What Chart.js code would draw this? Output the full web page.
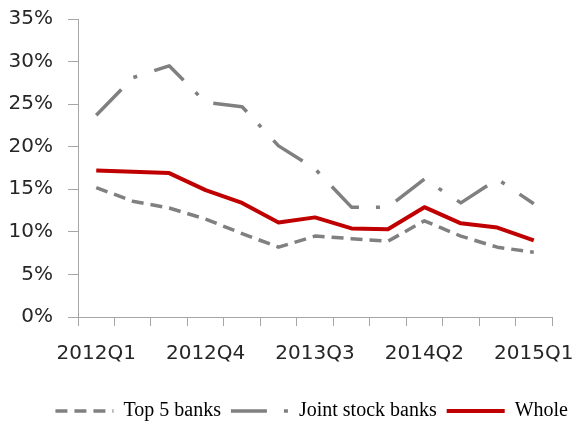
<!DOCTYPE html>
<html>
<head>
<meta charset="utf-8">
<script src="https://cdn.jsdelivr.net/npm/chart.js@4/dist/chart.umd.min.js"></script>
<style>
  html, body { margin: 0; padding: 0; background: #ffffff; }
  #wrap { width: 578px; height: 423px; position: relative; }
</style>
</head>
<body>
<div id="wrap"><canvas id="chart"></canvas></div>
<script>
// Quarterly categories along the x axis
const quarters = [
  '2012Q1', '2012Q2', '2012Q3', '2012Q4',
  '2013Q1', '2013Q2', '2013Q3', '2013Q4',
  '2014Q1', '2014Q2', '2014Q3', '2014Q4',
  '2015Q1'
];

// Series values, in percent
const top5Banks       = [15.2, 13.6, 12.8, 11.5, 9.8, 8.2, 9.5, 9.2, 8.9, 11.3, 9.5, 8.2, 7.6];
const jointStockBanks = [23.7, 28.1, 29.5, 25.2, 24.7, 20.1, 17.4, 12.9, 12.9, 16.2, 13.4, 16.2, 13.3];
const whole           = [17.2, 17.05, 16.9, 14.9, 13.4, 11.1, 11.7, 10.4, 10.3, 12.9, 11.0, 10.5, 9.0];

// Only every third quarter carries a label
const labelledQuarters = ['2012Q1', '2012Q4', '2013Q3', '2014Q2', '2015Q1'];

// Y axis range and step, in percent
const yMin = 0;
const yMax = 35;
const yStep = 5;

const axisGray = '#a6a6a6';
const tickFont = { family: 'DejaVu Sans', size: 20 };

const chart = new Chart(document.getElementById('chart'), {
  type: 'line',
  data: {
    labels: quarters,
    datasets: [
      {
        label: 'Top 5 banks',
        data: top5Banks,
        borderColor: '#808080',
        backgroundColor: '#808080',
        borderWidth: 3.5,
        borderDash: [12, 7],
        order: 2
      },
      {
        label: 'Joint stock banks',
        data: jointStockBanks,
        borderColor: '#808080',
        backgroundColor: '#808080',
        borderWidth: 3.5,
        borderDash: [36, 17, 4, 18],
        order: 1
      },
      {
        label: 'Whole',
        data: whole,
        borderColor: '#c00000',
        backgroundColor: '#c00000',
        borderWidth: 4,
        order: 0
      }
    ]
  },
  options: {
    responsive: true,
    maintainAspectRatio: false,
    animation: false,
    layout: { padding: { left: 8, right: 0, top: 19, bottom: -8 } },
    elements: {
      point: { radius: 0, hoverRadius: 0 },
      line: { tension: 0, fill: false, borderJoinStyle: 'round' }
    },
    scales: {
      x: {
        type: 'category',
        offset: true,
        grid: {
          offset: true,
          drawOnChartArea: false,
          drawTicks: true,
          tickLength: 9,
          color: axisGray,
          lineWidth: 1
        },
        border: { display: true, color: axisGray, width: 1 },
        ticks: {
          autoSkip: false,
          maxRotation: 0,
          minRotation: 0,
          padding: 16,
          color: '#262626',
          font: tickFont,
          callback: function (value) {
            const q = this.getLabelForValue(value);
            return labelledQuarters.includes(q) ? q : '';
          }
        },
        afterFit: (scale) => {
          scale.height = 74;
          scale.paddingLeft = 0;
          scale.paddingRight = 0;
        }
      },
      y: {
        min: yMin,
        max: yMax,
        grid: {
          drawOnChartArea: false,
          drawTicks: true,
          tickLength: 10,
          color: axisGray,
          lineWidth: 1
        },
        border: { display: true, color: axisGray, width: 1 },
        ticks: {
          stepSize: yStep,
          padding: 15,
          color: '#262626',
          font: tickFont,
          callback: (v) => v + '%'
        },
        afterFit: (scale) => {
          scale.width = 70;
          scale.paddingTop = 0;
          scale.paddingBottom = 0;
        }
      },
      // Empty right-hand gutter so the plot stops short of the canvas edge
      // while the legend row can still run across the full width
      gutter: {
        type: 'linear',
        position: 'right',
        display: true,
        grid: { display: false, drawTicks: false },
        border: { display: false },
        ticks: { display: false },
        afterFit: (scale) => {
          scale.width = 26;
          scale.paddingTop = 0;
          scale.paddingBottom = 0;
        }
      }
    },
    plugins: {
      tooltip: { enabled: false },
      legend: {
        position: 'bottom',
        align: 'end',
        fullSize: true,
        labels: {
          usePointStyle: true,
          pointStyle: 'line',
          pointStyleWidth: 58,
          boxHeight: 20,
          padding: 10,
          color: '#000000',
          font: { family: 'Liberation Serif', size: 20 },
          sort: (a, b) => a.datasetIndex - b.datasetIndex,
          generateLabels: (ch) => {
            const items = Chart.defaults.plugins.legend.labels.generateLabels(ch);
            return items.map((item) => {
              const ds = ch.data.datasets[item.datasetIndex];
              item.lineDash = ds.borderDash || [];
              item.lineWidth = ds.borderWidth;
              item.strokeStyle = ds.borderColor;
              item.lineCap = 'butt';
              item.pointStyle = 'line';
              return item;
            });
          }
        }
      }
    }
  }
});
</script>
</body>
</html>
